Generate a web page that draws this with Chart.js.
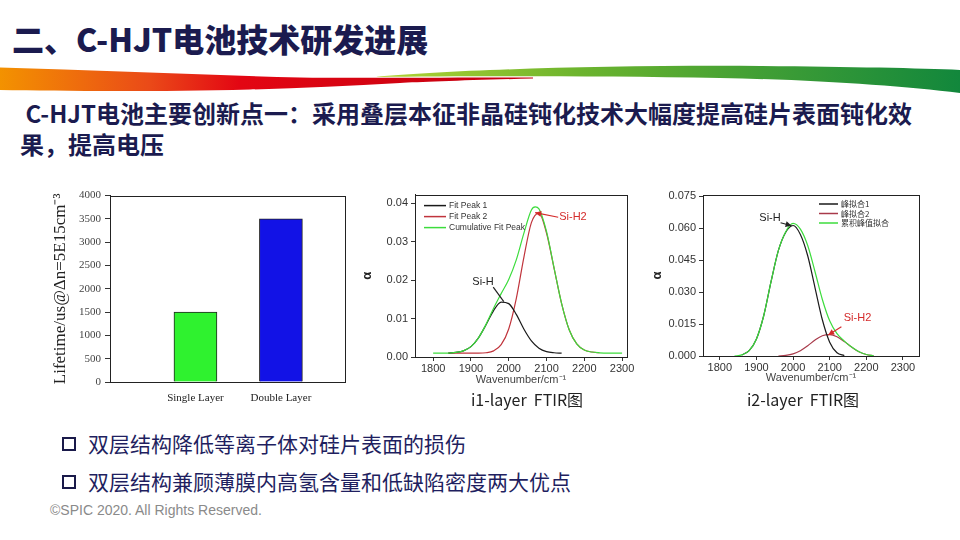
<!DOCTYPE html>
<html>
<head>
<meta charset="utf-8">
<script src="https://cdn.jsdelivr.net/npm/chart.js@4.4.1/dist/chart.umd.min.js"></script>
<style>
body { margin: 0; width: 960px; height: 540px; background: #fff; position: relative; overflow: hidden; font-family: "Noto Sans CJK SC", sans-serif; }
.abs { position: absolute; }
#title { left: 12px; top: 18px; font-size: 32px; line-height: 40px; font-weight: 900; color: #1b1b4f; white-space: nowrap; }
#sub { left: 20px; top: 97px; font-size: 24px; line-height: 31px; font-weight: 700; color: #1b1b4f; white-space: nowrap; }
.cap { font-size: 16px; color: #222; white-space: pre; text-align: center; width: 200px; line-height: 20px; }
.bullet { left: 62px; font-size: 21px; line-height: 28px; color: #1f1f5f; white-space: nowrap; }
.bullet span.box { display: inline-block; width: 10px; height: 10px; border: 2.5px solid #1a1a4a; margin-right: 12px; vertical-align: 1px; }
#copy { left: 50px; top: 502px; font-family: "Liberation Sans", Arial, sans-serif; font-size: 14px; color: #8a8a8a; }
canvas { position: absolute; }
</style>
</head>
<body>
<svg class="abs" style="left:0;top:0" width="960" height="100" viewBox="0 0 960 100">
  <defs>
    <linearGradient id="gRed" x1="0" y1="0" x2="533" y2="0" gradientUnits="userSpaceOnUse">
      <stop offset="0" stop-color="#f39200"/>
      <stop offset="0.28" stop-color="#ea4a18"/>
      <stop offset="0.45" stop-color="#e30613"/>
      <stop offset="1" stop-color="#c20010"/>
    </linearGradient>
    <linearGradient id="gGreen" x1="375" y1="0" x2="960" y2="0" gradientUnits="userSpaceOnUse">
      <stop offset="0" stop-color="#b5d334"/>
      <stop offset="0.35" stop-color="#6cb42e"/>
      <stop offset="1" stop-color="#12873c"/>
    </linearGradient>
  </defs>
  <path d="M375,77 C450,70 600,65 760,66 C850,67 920,68 960,70 L960,93 C900,86 820,80 720,78 C600,76 470,76 375,77 Z" fill="url(#gGreen)"/>
  <path d="M0,67.5 C100,70 200,75 300,77.5 C360,78.5 450,77 533,77.5 L533,78.5 C470,80 420,82 400,83 C350,86 300,88 250,89.5 C150,92 60,91 0,90 Z" fill="url(#gRed)"/>
</svg>

<div id="title" class="abs">二、C-HJT电池技术研发进展</div>
<div id="sub" class="abs">&nbsp;C-HJT电池主要创新点一：采用叠层本征非晶硅钝化技术大幅度提高硅片表面钝化效<br>果，提高电压</div>

<canvas id="lifetimeChart" width="300" height="225" style="left:50px;top:185px"></canvas>
<canvas id="i1Chart" width="280" height="204" style="left:360px;top:185px"></canvas>
<canvas id="i2Chart" width="280" height="202" style="left:650px;top:185px"></canvas>

<div class="abs cap" style="left:427px;top:389px">i1-layer  FTIR图</div>
<div class="abs cap" style="left:703px;top:389px">i2-layer  FTIR图</div>

<div class="abs bullet" style="top:429px"><span class="box"></span>双层结构降低等离子体对硅片表面的损伤</div>
<div class="abs bullet" style="top:467px"><span class="box"></span>双层结构兼顾薄膜内高氢含量和低缺陷密度两大优点</div>
<div id="copy" class="abs">©SPIC 2020. All Rights Reserved.</div>

<script>
// lifetime bar chart
const barCategories = ['Single Layer', 'Double Layer'];
const lifetimeValues = [1500, 3500];
const lifetimeTicks = [0, 500, 1000, 1500, 2000, 2500, 3000, 3500, 4000];

// FTIR tick values
const wavenumberTicks = [1800, 1900, 2000, 2100, 2200, 2300];
const i1AlphaTicks = [0, 0.01, 0.02, 0.03, 0.04];
const i2AlphaTicks = [0, 0.015, 0.03, 0.045, 0.06, 0.075];

// i1-layer curves
const i1Peak1X = [1840, 1860, 1880, 1900, 1920, 1940, 1960, 1980, 2000, 2020, 2040, 2060, 2080, 2100, 2120, 2140];
const i1Peak1Y = [0.0010, 0.0012, 0.0016, 0.0027, 0.0050, 0.0084, 0.0121, 0.0143, 0.0139, 0.0111, 0.0073, 0.0042, 0.0023, 0.0014, 0.0011, 0.0010];
const i1Peak2X = [1840, 1860, 1880, 1900, 1920, 1940, 1960, 1980, 2000, 2020, 2040, 2060, 2080, 2100, 2120, 2140, 2160, 2180, 2200, 2220, 2240];
const i1Peak2Y = [0.0010, 0.0010, 0.0010, 0.0010, 0.0010, 0.0011, 0.0016, 0.0032, 0.0073, 0.0152, 0.0259, 0.0350, 0.0375, 0.0323, 0.0231, 0.0139, 0.0071, 0.0034, 0.0018, 0.0013, 0.0011];
const i1SumX = [1800, 1820, 1840, 1860, 1880, 1900, 1920, 1940, 1960, 1980, 2000, 2020, 2040, 2060, 2070, 2080, 2100, 2120, 2140, 2160, 2180, 2200, 2220, 2240, 2260, 2280, 2300];
const i1SumY = [0.0010, 0.0010, 0.0010, 0.0012, 0.0016, 0.0027, 0.0050, 0.0085, 0.0127, 0.0165, 0.0202, 0.0253, 0.0322, 0.0383, 0.0391, 0.0386, 0.0327, 0.0232, 0.0139, 0.0071, 0.0034, 0.0018, 0.0013, 0.0011, 0.0010, 0.0010, 0.0010];
const i1Labels = ['Fit Peak 1', 'Fit Peak 2', 'Cumulative Fit Peak'];

// i2-layer curves
const i2Peak1X = [1860, 1880, 1900, 1920, 1940, 1960, 1980, 2000, 2020, 2040, 2060, 2080, 2100, 2120, 2140];
const i2Peak1Y = [0.0005, 0.0025, 0.0080, 0.0190, 0.0350, 0.0495, 0.0580, 0.0612, 0.0570, 0.0470, 0.0320, 0.0170, 0.0065, 0.0015, 0.0002];
const i2Peak2X = [1960, 1980, 2000, 2020, 2040, 2060, 2080, 2100, 2120, 2140, 2160, 2180, 2200, 2220];
const i2Peak2Y = [0.0000, 0.0003, 0.0010, 0.0025, 0.0048, 0.0075, 0.0095, 0.0100, 0.0090, 0.0068, 0.0042, 0.0020, 0.0007, 0.0001];
const i2SumX = [1840, 1860, 1880, 1900, 1920, 1940, 1960, 1980, 2000, 2020, 2040, 2060, 2080, 2100, 2120, 2140, 2160, 2180, 2200, 2220];
const i2SumY = [0.0000, 0.0005, 0.0025, 0.0080, 0.0190, 0.0350, 0.0495, 0.0583, 0.0622, 0.0595, 0.0518, 0.0395, 0.0265, 0.0165, 0.0105, 0.0070, 0.0042, 0.0020, 0.0007, 0.0001];
const i2Labels = ['峰拟合1', '峰拟合2', '累积峰值拟合'];

// peak notes: text anchor, arrow start, arrow end (wavenumber, alpha)
const i1Notes = [
    { text: 'Si-H', color: '#222', at: [1932, 0.0195], from: [1959, 0.0182], to: [1987, 0.0144], head: false },
    { text: 'Si-H2', color: '#d42a2a', at: [2170, 0.0364], from: [2131, 0.0364], to: [2070, 0.0376], head: true }
];
const i2Notes = [
    { text: 'Si-H', color: '#222', at: [1937, 0.0645], from: [1966, 0.0625], to: [1996, 0.0611], head: true },
    { text: 'Si-H2', color: '#d42a2a', at: [2176, 0.0177], from: [2132, 0.0137], to: [2096, 0.0098], head: true }
];

Chart.defaults.font.family = '"Liberation Sans", Arial, sans-serif';
Chart.defaults.color = '#333';

function pts(xs, ys) {
    return xs.map((x, i) => ({ x: x, y: ys[i] }));
}

const overlayPlugin = {
    id: 'overlay',
    afterDatasetsDraw(chart, args, opts) {
        const ctx = chart.ctx;
        const a = chart.chartArea;
        const sx = chart.scales.x, sy = chart.scales.y;
        ctx.save();
        ctx.strokeStyle = '#222';
        ctx.lineWidth = 1;
        ctx.strokeRect(Math.round(a.left) + 0.5, Math.round(a.top) + 0.5, Math.round(a.width), Math.round(a.height));

        if (opts.legend) {
            const lg = opts.legend;
            ctx.font = lg.font;
            ctx.textBaseline = 'middle';
            ctx.textAlign = 'left';
            lg.order.forEach((di, i) => {
                const ds = chart.data.datasets[di];
                const y = a.top + lg.top + i * lg.rowH;
                const x = a.left + lg.left;
                ctx.strokeStyle = ds.borderColor;
                ctx.lineWidth = 1.5;
                ctx.beginPath();
                ctx.moveTo(x, y);
                ctx.lineTo(x + lg.lineLen, y);
                ctx.stroke();
                ctx.fillStyle = '#333';
                ctx.fillText(ds.label, x + lg.lineLen + 3, y);
            });
        }

        (opts.notes || []).forEach(n => {
            const x0 = sx.getPixelForValue(n.from[0]), y0 = sy.getPixelForValue(n.from[1]);
            const x1 = sx.getPixelForValue(n.to[0]), y1 = sy.getPixelForValue(n.to[1]);
            ctx.strokeStyle = n.color;
            ctx.fillStyle = n.color;
            ctx.lineWidth = 1.2;
            ctx.beginPath();
            ctx.moveTo(x0, y0);
            ctx.lineTo(x1, y1);
            ctx.stroke();
            if (n.head) {
                const ang = Math.atan2(y1 - y0, x1 - x0);
                const len = 6, w = 3;
                ctx.beginPath();
                ctx.moveTo(x1, y1);
                ctx.lineTo(x1 - len * Math.cos(ang) + w * Math.sin(ang), y1 - len * Math.sin(ang) - w * Math.cos(ang));
                ctx.lineTo(x1 - len * Math.cos(ang) - w * Math.sin(ang), y1 - len * Math.sin(ang) + w * Math.cos(ang));
                ctx.closePath();
                ctx.fill();
            }
            ctx.font = '11px "Liberation Sans", Arial, sans-serif';
            ctx.textAlign = 'center';
            ctx.textBaseline = 'middle';
            ctx.fillText(n.text, sx.getPixelForValue(n.at[0]), sy.getPixelForValue(n.at[1]));
        });
        ctx.restore();
    }
};

function setTicks(values) {
    return scale => { scale.ticks = values.map(v => ({ value: v })); };
}

// lifetime bars
new Chart(document.getElementById('lifetimeChart'), {
    type: 'bar',
    data: {
        datasets: [{
            data: pts([1, 2], lifetimeValues),
            backgroundColor: ['#2ff22f', '#1212e6'],
            borderColor: '#222',
            borderWidth: 1,
            barThickness: 43
        }]
    },
    options: {
        responsive: false,
        animation: false,
        devicePixelRatio: 1,
        layout: { padding: { top: 8, right: 5, left: 0, bottom: 0 } },
        plugins: { legend: { display: false }, tooltip: { enabled: false }, overlay: {} },
        scales: {
            x: {
                type: 'linear', min: 0, max: 2.75,
                offset: false,
                afterBuildTicks: setTicks([1, 2]),
                afterFit: s => { s.height = 28; },
                grid: { display: false, offset: false },
                border: { color: '#222' },
                ticks: {
                    padding: 2,
                    color: '#222',
                    font: { family: '"Liberation Serif", "Times New Roman", serif', size: 11 },
                    callback: v => barCategories[v - 1]
                }
            },
            y: {
                min: 0, max: 4000,
                afterBuildTicks: setTicks(lifetimeTicks),
                afterFit: s => { s.width = 60; },
                grid: { drawOnChartArea: false, tickLength: 5, color: '#333' },
                border: { color: '#222' },
                ticks: {
                    padding: 4, color: '#444',
                    font: { family: '"Liberation Serif", "Times New Roman", serif', size: 11 },
                    callback: v => String(v)
                },
                title: {
                    display: true,
                    text: 'Lifetime/us@Δn=5E15cm⁻³',
                    color: '#222',
                    padding: { top: 0, bottom: 11 },
                    font: { family: '"Liberation Serif", "Times New Roman", serif', size: 17 }
                }
            }
        }
    },
    plugins: [overlayPlugin]
});

function ftirChart(id, sets, labels, colors, yTicks, yRange, xRange, yDigits, axisW, axisH, padTop, padRight, legend, notes) {
    return new Chart(document.getElementById(id), {
        type: 'line',
        data: {
            datasets: sets.map((s, i) => ({
                label: labels[i],
                data: s,
                borderColor: colors[i],
                borderWidth: 1.2,
                pointRadius: 0,
                cubicInterpolationMode: 'monotone',
                order: i === 2 ? 0 : 1
            }))
        },
        options: {
            responsive: false,
            animation: false,
            devicePixelRatio: 1,
            layout: { padding: { top: padTop, right: padRight, left: 0, bottom: 0 } },
            plugins: { legend: { display: false }, tooltip: { enabled: false }, overlay: { legend: legend, notes: notes } },
            scales: {
                x: {
                    type: 'linear', min: xRange[0], max: xRange[1],
                    afterBuildTicks: setTicks(wavenumberTicks),
                    afterFit: s => { s.height = axisH; },
                    grid: { drawOnChartArea: false, tickLength: 4, color: '#333' },
                    border: { color: '#222' },
                    ticks: { padding: 1, color: '#333', font: { size: 11 }, maxRotation: 0, callback: v => String(v) },
                    title: {
                        display: true,
                        text: 'Wavenumber/cm⁻¹',
                        color: '#444',
                        padding: { top: 0, bottom: 2 },
                        font: { size: 11 }
                    }
                },
                y: {
                    min: yRange[0], max: yRange[1],
                    afterBuildTicks: setTicks(yTicks),
                    afterFit: s => { s.width = axisW; },
                    grid: { drawOnChartArea: false, tickLength: 4, color: '#333' },
                    border: { color: '#222' },
                    ticks: { padding: 3, color: '#333', font: { size: 11 }, callback: v => v.toFixed(yDigits) },
                    title: {
                        display: true,
                        text: 'α',
                        color: '#222',
                        padding: { top: 0, bottom: 7 },
                        font: { size: 13, weight: 'bold' }
                    }
                }
            }
        },
        plugins: [overlayPlugin]
    });
}

ftirChart('i1Chart',
    [pts(i1Peak1X, i1Peak1Y), pts(i1Peak2X, i1Peak2Y), pts(i1SumX, i1SumY)],
    i1Labels, ['#1a1a1a', '#c0343c', '#3cdc3c'],
    i1AlphaTicks, [0, 0.0423], [1752, 2313], 2,
    55, 32, 9, 13,
    { left: 9, top: 11, rowH: 11, lineLen: 22, font: '8.5px "Liberation Sans", Arial, sans-serif', order: [0, 1, 2] },
    i1Notes);

ftirChart('i2Chart',
    [pts(i2Peak1X, i2Peak1Y), pts(i2Peak2X, i2Peak2Y), pts(i2SumX, i2SumY)],
    i2Labels, ['#1a1a1a', '#a83a4a', '#3cdc3c'],
    i2AlphaTicks, [0, 0.0755], [1754, 2344], 3,
    53, 31, 10, 11,
    { left: 116, top: 9, rowH: 9.5, lineLen: 19, font: '8px "Noto Sans CJK SC", sans-serif', order: [0, 1, 2] },
    i2Notes);
</script>
</body>
</html>
